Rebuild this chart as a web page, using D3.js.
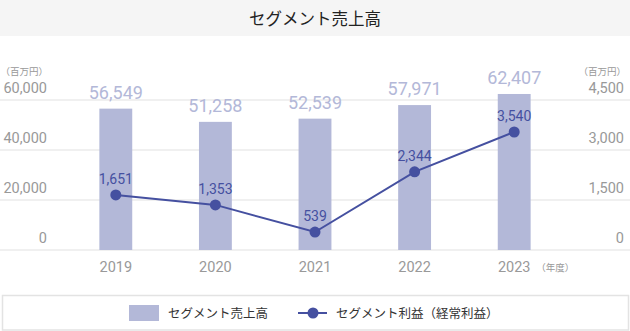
<!DOCTYPE html>
<html>
<head>
<meta charset="utf-8">
<script src="https://cdn.jsdelivr.net/npm/d3@7"></script>
<style>
  html, body { margin: 0; padding: 0; background: #fff; }
  svg { display: block; }
  text { font-family: Roboto, "Noto Sans CJK JP", sans-serif; }
  .jp { font-family: "Noto Sans CJK JP", sans-serif; }
</style>
</head>
<body>
<script>
// Fiscal years and segment figures (millions of yen)
const years = ["2019", "2020", "2021", "2022", "2023"];
const sales = [56549, 51258, 52539, 57971, 62407];
const profit = [1651, 1353, 539, 2344, 3540];
const leftTicks = [0, 20000, 40000, 60000];
const rightTicks = [0, 1500, 3000, 4500];

const W = 630, H = 331;
const barColor = "#b3b8d8";
const lineColor = "#4550a0";
const axisColor = "#999";

const svg = d3.select("body").append("svg").attr("width", W).attr("height", H);

// Title band
svg.append("rect").attr("x", 0).attr("y", 0).attr("width", W).attr("height", 36).attr("fill", "#f5f5f5");
svg.append("text").attr("class", "jp").attr("x", 315).attr("y", 25)
  .attr("text-anchor", "middle").attr("font-size", 16.5).attr("fill", "#222")
  .text("セグメント売上高");

// Scales
const x = d3.scaleBand().domain(years).range([66, 564]).paddingInner(0.67).paddingOuter(0.335);
const yL = d3.scaleLinear().domain([0, 60000]).range([250, 100]);
const yR = d3.scaleLinear().domain([0, 4500]).range([250, 100]);
const fmt = d3.format(",");

// Gridlines
svg.append("g").selectAll("line").data(leftTicks).join("line")
  .attr("x1", 0).attr("x2", W)
  .attr("y1", d => yL(d)).attr("y2", d => yL(d))
  .attr("stroke", "#ebebeb").attr("stroke-width", 1.5);

// Left axis
const gL = svg.append("g").attr("transform", "translate(47,0)")
  .call(d3.axisLeft(yL).tickValues(leftTicks).tickFormat(fmt).tickSize(0).tickPadding(0));
gL.select(".domain").remove();
gL.selectAll("text").attr("font-size", 14.5).attr("fill", axisColor)
  .attr("dy", null).attr("y", -8).attr("font-family", "Roboto");

// Right axis
const gR = svg.append("g").attr("transform", "translate(624,0)")
  .call(d3.axisLeft(yR).tickValues(rightTicks).tickFormat(fmt).tickSize(0).tickPadding(0));
gR.select(".domain").remove();
gR.selectAll("text").attr("font-size", 14.5).attr("fill", axisColor)
  .attr("dy", null).attr("y", -8).attr("font-family", "Roboto");

// Unit labels
svg.append("text").attr("class", "jp").attr("x", 48).attr("y", 75).attr("text-anchor", "end")
  .attr("font-size", 9.5).attr("fill", axisColor).text("（百万円）");
svg.append("text").attr("class", "jp").attr("x", 626).attr("y", 75).attr("text-anchor", "end")
  .attr("font-size", 9.5).attr("fill", axisColor).text("（百万円）");

// Bars
svg.append("g").selectAll("rect").data(years).join("rect")
  .attr("x", d => x(d)).attr("width", x.bandwidth())
  .attr("y", (d, i) => yL(sales[i])).attr("height", (d, i) => yL(0) - yL(sales[i]))
  .attr("fill", barColor);

// Bar value labels
svg.append("g").selectAll("text").data(years).join("text")
  .attr("x", d => x(d) + x.bandwidth() / 2)
  .attr("y", (d, i) => yL(sales[i]) - 10)
  .attr("text-anchor", "middle").attr("font-size", 18).attr("fill", barColor)
  .attr("font-family", "Roboto")
  .text((d, i) => fmt(sales[i]));

// X axis labels
const gX = svg.append("g").attr("transform", "translate(0,250)")
  .call(d3.axisBottom(x).tickSize(0).tickPadding(0));
gX.select(".domain").remove();
gX.selectAll("text").attr("font-size", 14.5).attr("fill", axisColor)
  .attr("dy", null).attr("y", 22).attr("font-family", "Roboto");
svg.append("text").attr("class", "jp").attr("x", x("2023") + x.bandwidth() / 2 + 22).attr("y", 271)
  .attr("font-size", 9.5).attr("fill", axisColor).text("（年度）");

// Profit line
const pts = years.map((d, i) => [x(d) + x.bandwidth() / 2, yR(profit[i])]);
svg.append("path").attr("d", d3.line()(pts))
  .attr("fill", "none").attr("stroke", lineColor).attr("stroke-width", 2);
svg.append("g").selectAll("circle").data(pts).join("circle")
  .attr("cx", d => d[0]).attr("cy", d => d[1]).attr("r", 5.5).attr("fill", lineColor);
svg.append("g").selectAll("text").data(pts).join("text")
  .attr("x", d => d[0]).attr("y", d => d[1] - 11)
  .attr("text-anchor", "middle").attr("font-size", 14).attr("fill", lineColor)
  .attr("font-family", "Roboto")
  .text((d, i) => fmt(profit[i]));

// Legend
svg.append("rect").attr("x", 2.5).attr("y", 295.5).attr("width", 626).attr("height", 34.5)
  .attr("fill", "#fff").attr("stroke", "#e3e3e3").attr("stroke-width", 1.5);
svg.append("rect").attr("x", 129).attr("y", 305).attr("width", 30).attr("height", 16).attr("fill", barColor);
svg.append("text").attr("class", "jp").attr("x", 168).attr("y", 317.5)
  .attr("font-size", 12.5).attr("fill", "#333").text("セグメント売上高");
svg.append("line").attr("x1", 298).attr("x2", 327).attr("y1", 313).attr("y2", 313)
  .attr("stroke", lineColor).attr("stroke-width", 2);
svg.append("circle").attr("cx", 313).attr("cy", 313).attr("r", 5.5).attr("fill", lineColor);
svg.append("text").attr("class", "jp").attr("x", 336).attr("y", 317.5)
  .attr("font-size", 12.5).attr("fill", "#333").text("セグメント利益（経常利益）");
</script>
</body>
</html>
